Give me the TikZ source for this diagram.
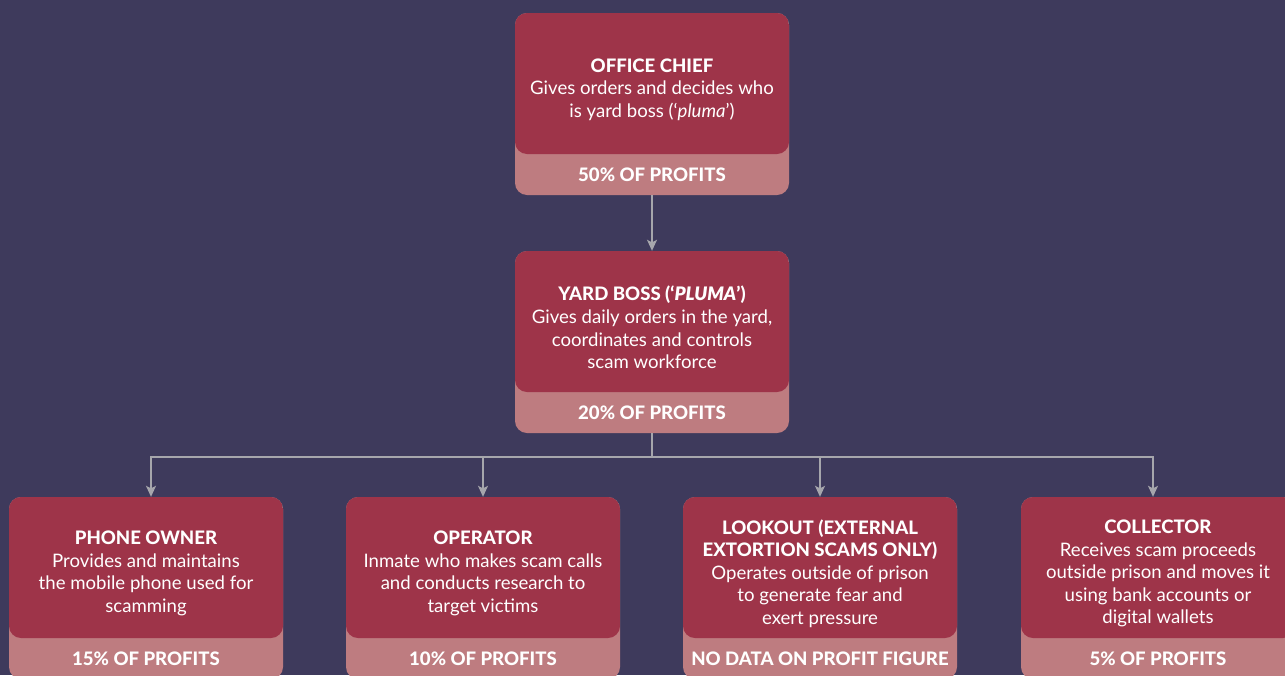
\documentclass[tikz,border=0pt]{standalone}
\usepackage{fontspec}
\setmainfont{Lato}[BoldFont={Lato Heavy}]
\usetikzlibrary{arrows.meta}
\definecolor{bgc}{HTML}{3E3A5C}
\definecolor{boxred}{HTML}{9E3449}
\definecolor{bandc}{HTML}{BE7C80}
\definecolor{linec}{HTML}{A6A6AC}
\begin{document}
\begin{tikzpicture}[x=1pt,y=-1pt,
  box/.style={rectangle, rounded corners=12pt, fill=bandc, minimum width=274pt,
    minimum height=182pt, inner sep=0pt,
    path picture={\fill[boxred] (path picture bounding box.north west) rectangle ([yshift=41pt]path picture bounding box.south east);}},
  body/.style={text=white, align=center, inner sep=0pt, font=\fontsize{18.6}{22.6}\selectfont},
  band/.style={text=white, inner sep=0pt, font=\fontsize{18.6}{20}\selectfont\bfseries},
  link/.style={draw=linec, line width=1.4pt},
  conn/.style={link, -{Stealth[length=11pt,width=10pt,inset=2.5pt]}}
]
\useasboundingbox (0,0) rectangle (1285,675);
\fill[bgc] (0,0) rectangle (1285,675);

% boxes
\node[box] (chief) at (652,104) {};
\node[box] (yard) at (652,342) {};
\node[box] (phone) at (146,588) {};
\node[box] (oper) at (483,588) {};
\node[box] (look) at (820,588) {};
\node[box] (coll) at (1158,588) {};

% texts
\node[body] (chiefT) at ([yshift=14.5pt]chief.center) {\textbf{OFFICE CHIEF}\\Gives orders and decides who\\is yard boss (‘\textit{pluma}’)};
\node[band] (chiefB) at ([yshift=20.5pt]chief.south) {50\% OF PROFITS};

\node[body] (yardT) at ([yshift=14.5pt]yard.center) {\textbf{YARD BOSS (‘\textit{PLUMA}’)}\\Gives daily orders in the yard,\\coordinates and controls\\scam workforce};
\node[band] (yardB) at ([yshift=20.5pt]yard.south) {20\% OF PROFITS};

\node[body] (phoneT) at ([yshift=14.5pt]phone.center) {\textbf{PHONE OWNER}\\Provides and maintains\\the mobile phone used for\\scamming};
\node[band] (phoneB) at ([yshift=20.5pt]phone.south) {15\% OF PROFITS};

\node[body] (operT) at ([yshift=14.5pt]oper.center) {\textbf{OPERATOR}\\Inmate who makes scam calls\\and conducts research to\\target victims};
\node[band] (operB) at ([yshift=20.5pt]oper.south) {10\% OF PROFITS};

\node[body] (lookT) at ([yshift=14.5pt]look.center) {\textbf{LOOKOUT (EXTERNAL}\\\textbf{EXTORTION SCAMS ONLY)}\\Operates outside of prison\\to generate fear and\\exert pressure};
\node[band] (lookB) at ([yshift=20.5pt]look.south) {NO DATA ON PROFIT FIGURE};

\node[body] (collT) at ([yshift=14.5pt]coll.center) {\textbf{COLLECTOR}\\Receives scam proceeds\\outside prison and moves it\\using bank accounts or\\digital wallets};
\node[band] (collB) at ([yshift=20.5pt]coll.south) {5\% OF PROFITS};

% connectors
\draw[conn] (chief.south) -- (yard.north);
\coordinate (split) at (652,457);
\draw[link] (yard.south) -- (split);
\draw[conn] (split) -| ([xshift=5pt]phone.north);
\draw[conn] (split) -| (oper.north);
\draw[conn] (split) -| (look.north);
\draw[conn] (split) -| ([xshift=-5pt]coll.north);
\end{tikzpicture}
\end{document}
